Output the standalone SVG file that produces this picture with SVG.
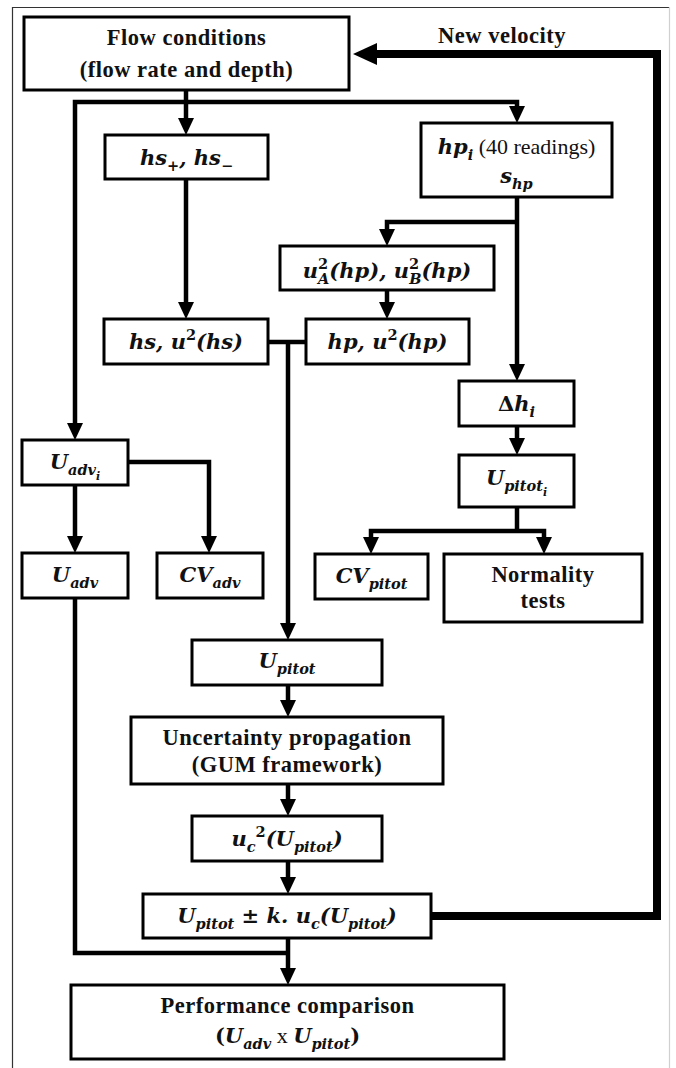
<svg xmlns="http://www.w3.org/2000/svg" width="676" height="1068" viewBox="0 0 676 1068">
<style>
.box{fill:#fff;stroke:#000;stroke-width:3}
.c{fill:none;stroke:#000;stroke-width:4.5;stroke-linejoin:miter}
.fb{fill:none;stroke:#000;stroke-width:8;stroke-linejoin:miter}
text{text-anchor:middle;fill:#111}
.g{font-family:"Liberation Serif",serif;font-weight:bold;font-size:22.5px;letter-spacing:0.5px}
.r{font-family:"Liberation Serif",serif;font-weight:normal;font-style:normal;font-size:22px}
.m{font-family:"DejaVu Serif",serif;font-weight:bold;font-style:italic;font-size:21px}
.s{font-size:14.5px}
.ss{font-size:11px}
.u{font-style:normal}
</style>
<defs>
<marker id="a" markerUnits="userSpaceOnUse" markerWidth="17" markerHeight="16" viewBox="0 0 17 16" refX="11" refY="8" orient="auto-start-reverse"><path d="M0,0 L17,8 L0,16 z" fill="#000"/></marker>
<marker id="big" markerUnits="userSpaceOnUse" markerWidth="24" markerHeight="22" viewBox="0 0 24 22" refX="14" refY="11" orient="auto"><path d="M0,0 L24,11 L0,22 z" fill="#000"/></marker>
</defs>
<rect width="676" height="1068" fill="#fff"/>
<g id="frame">
<line x1="12" y1="7.5" x2="670" y2="7.5" stroke="#333" stroke-width="1.2"/>
<line x1="12.5" y1="7" x2="12.5" y2="1068" stroke="#333" stroke-width="1.2"/>
<line x1="669.5" y1="7" x2="669.5" y2="1068" stroke="#d0d0d0" stroke-width="1.2"/>
</g>
<g id="connectors">
<path class="c" d="M186,90 V129" marker-end="url(#a)"/>
<path class="c" d="M75,434 V102 H517 V117" marker-start="url(#a)" marker-end="url(#a)"/>
<path class="c" d="M186,179 V313" marker-end="url(#a)"/>
<path class="c" d="M517,197 V375" marker-end="url(#a)"/>
<path class="c" d="M517,222 H387 V240" marker-end="url(#a)"/>
<path class="c" d="M387,290 V313" marker-end="url(#a)"/>
<path class="c" d="M268,342 H306"/>
<path class="c" d="M288,342 V634" marker-end="url(#a)"/>
<path class="c" d="M517,426 V449" marker-end="url(#a)"/>
<path class="c" d="M517,507 V531"/>
<path class="c" d="M371,548 V531 H544 V548" marker-start="url(#a)" marker-end="url(#a)"/>
<path class="c" d="M75,485 V547" marker-end="url(#a)"/>
<path class="c" d="M128,462 H209 V547" marker-end="url(#a)"/>
<path class="c" d="M288,685 V711" marker-end="url(#a)"/>
<path class="c" d="M288,784 V810" marker-end="url(#a)"/>
<path class="c" d="M288,861 V888" marker-end="url(#a)"/>
<path class="c" d="M75,598 V953 H288"/>
<path class="c" d="M288,938 V979" marker-end="url(#a)"/>
<path class="fb" d="M431,916 H657 V54 H363" marker-end="url(#big)"/>
<text class="g" x="502" y="43">New velocity</text>
</g>
<g id="flow"><rect class="box" x="24" y="17" width="325" height="73"/>
<text class="g" x="186.5" y="45">Flow conditions</text>
<text class="g" x="186.5" y="77">(flow rate and depth)</text></g>
<g id="hspm"><rect class="box" x="105" y="135" width="163" height="44"/>
<text class="m" x="186.5" y="165">hs<tspan class="s u" dy="6">+</tspan><tspan dy="-6">, hs</tspan><tspan class="s u" dy="6">−</tspan></text></g>
<g id="hpi"><rect class="box" x="421" y="123" width="191" height="74"/>
<text x="516.5" y="154"><tspan class="m">hp</tspan><tspan class="m s" dy="6">i</tspan><tspan class="r" dy="-6"> (40 readings)</tspan></text>
<text x="516.5" y="183"><tspan class="m">s</tspan><tspan class="m s" dy="6">hp</tspan></text></g>
<g id="uab"><rect class="box" x="280" y="246" width="214" height="44"/>
<text class="m" x="387" y="278">u<tspan class="s u" dy="-9">2</tspan><tspan class="s" dx="-10" dy="15">A</tspan><tspan dy="-6">(hp), u</tspan><tspan class="s u" dy="-9">2</tspan><tspan class="s" dx="-10" dy="15">B</tspan><tspan dy="-6">(hp)</tspan></text></g>
<g id="hs"><rect class="box" x="104" y="319" width="164" height="45"/>
<text class="m" x="186" y="349">hs, u<tspan class="s u" dy="-9">2</tspan><tspan dy="9">(hs)</tspan></text></g>
<g id="hp"><rect class="box" x="306" y="319" width="163" height="45"/>
<text class="m" x="387.5" y="349">hp, u<tspan class="s u" dy="-9">2</tspan><tspan dy="9">(hp)</tspan></text></g>
<g id="dh"><rect class="box" x="459" y="381" width="115" height="45"/>
<text class="m" x="516.5" y="411"><tspan class="u">Δ</tspan>h<tspan class="s" dy="6">i</tspan></text></g>
<g id="upi"><rect class="box" x="459" y="455" width="115" height="52"/>
<text class="m" x="516.5" y="485">U<tspan class="s" dy="6">pitot</tspan><tspan class="ss" dy="5">i</tspan></text></g>
<g id="uadvi"><rect class="box" x="22" y="440" width="106" height="45"/>
<text class="m" x="75" y="469">U<tspan class="s" dy="6">adv</tspan><tspan class="ss" dy="5">i</tspan></text></g>
<g id="uadv"><rect class="box" x="22" y="553" width="106" height="45"/>
<text class="m" x="75" y="582">U<tspan class="s" dy="6">adv</tspan></text></g>
<g id="cvadv"><rect class="box" x="157" y="553" width="106" height="45"/>
<text class="m" x="210" y="582">CV<tspan class="s" dy="6">adv</tspan></text></g>
<g id="cvp"><rect class="box" x="315" y="554" width="113" height="45"/>
<text class="m" x="371.5" y="583">CV<tspan class="s" dy="6">pitot</tspan></text></g>
<g id="norm"><rect class="box" x="444" y="554" width="198" height="68"/>
<text class="g" x="543" y="582">Normality</text>
<text class="g" x="543" y="608">tests</text></g>
<g id="upitot"><rect class="box" x="192" y="640" width="190" height="45"/>
<text class="m" x="287" y="668">U<tspan class="s" dy="6">pitot</tspan></text></g>
<g id="unc"><rect class="box" x="131" y="717" width="312" height="67"/>
<text class="g" x="287" y="745">Uncertainty propagation</text>
<text class="g" x="287" y="772">(GUM framework)</text></g>
<g id="uc"><rect class="box" x="192" y="816" width="190" height="45"/>
<text class="m" x="287" y="846">u<tspan class="s" dy="6">c</tspan><tspan class="s u" dy="-15">2</tspan><tspan dy="9">(U</tspan><tspan class="s" dy="6">pitot</tspan><tspan dy="-6">)</tspan></text></g>
<g id="upk"><rect class="box" x="143" y="894" width="288" height="44"/>
<text class="m" x="287" y="923">U<tspan class="s" dy="6">pitot</tspan><tspan class="u" dy="-6"> ± </tspan>k. u<tspan class="s" dy="6">c</tspan><tspan dy="-6">(U</tspan><tspan class="s" dy="6">pitot</tspan><tspan dy="-6">)</tspan></text></g>
<g id="perf"><rect class="box" x="71" y="985" width="433" height="74"/>
<text class="g" x="287.5" y="1013">Performance comparison</text>
<text x="287.5" y="1043"><tspan class="m u">(</tspan><tspan class="m">U</tspan><tspan class="m s" dy="6">adv</tspan><tspan class="r" dy="-6"> x </tspan><tspan class="m">U</tspan><tspan class="m s" dy="6">pitot</tspan><tspan class="m u" dy="-6">)</tspan></text></g>
</svg>
